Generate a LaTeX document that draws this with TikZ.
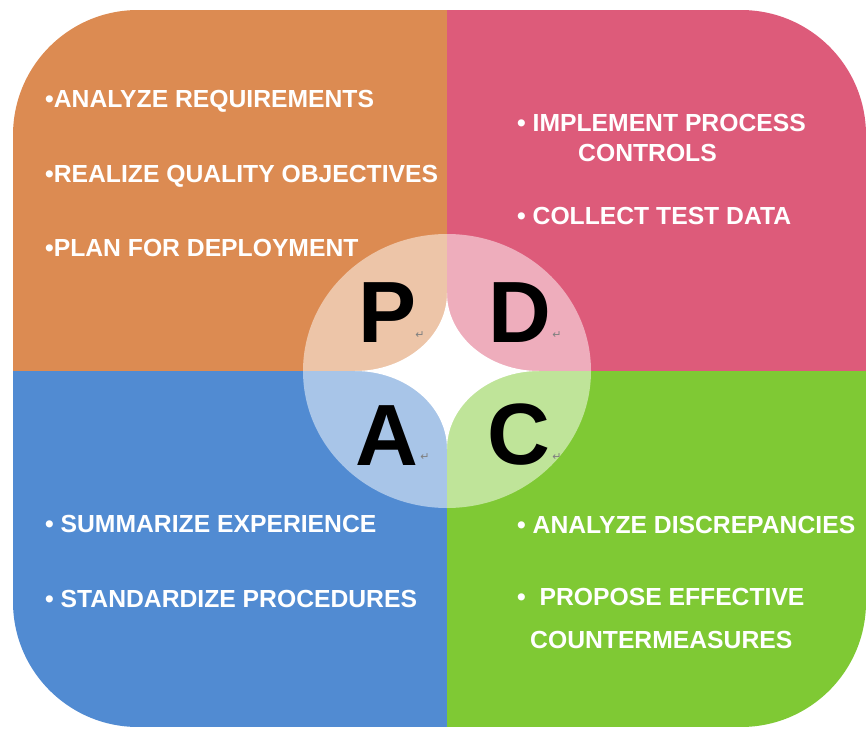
\documentclass[tikz,border=0pt]{standalone}
\usepackage{fontspec}
\setmainfont{Liberation Sans}
\newfontfamily\retfont{DejaVu Sans}
\usepackage{tikz}

\definecolor{planorange}{RGB}{220,139,82}
\definecolor{dopink}{RGB}{221,91,122}
\definecolor{actblue}{RGB}{81,139,210}
\definecolor{checkgreen}{RGB}{127,201,52}

\begin{document}
\begin{tikzpicture}
[
  x = 1pt, y = -1pt,
  item/.style     = {anchor=base west, inner sep=0pt, text=white,
                     font=\fontsize{24.7}{28}\selectfont\bfseries},
  letter/.style   = {anchor=base, inner sep=0pt, text=black,
                     font=\fontsize{87}{90}\selectfont\bfseries},
  retmark/.style  = {inner sep=0pt, text=gray,
                     font=\retfont\fontsize{11}{11}\selectfont},
  lens/.style     = {white, opacity=0.5},
  star arc/.style = {x radius=92, y radius=78}
]
\fill [white] (0,0) rectangle (867,730);
\useasboundingbox (0,0) rectangle (867,730);

\begin{scope}
  \clip [rounded corners=125pt] (13,10) rectangle (866,727);
  \fill [planorange] (13,10)   rectangle (447,371);
  \fill [dopink]     (447,10)  rectangle (866,371);
  \fill [actblue]    (13,371)  rectangle (447,727);
  \fill [checkgreen] (447,371) rectangle (866,727);
\end{scope}

\coordinate (hub) at (447,371);
\fill [lens] (hub) ellipse [x radius=144, y radius=137];
\fill [white] (355,371)
  arc [star arc, start angle=-90, end angle=0]
  arc [star arc, start angle=180, end angle=270]
  arc [star arc, start angle=90,  end angle=180]
  arc [star arc, start angle=0,   end angle=90] -- cycle;

\node [letter] (letterP) at (388,342) {P};
\node [letter] (letterD) at (520,342) {D};
\node [letter] (letterA) at (387,465) {A};
\node [letter] (letterC) at (519,464) {C};
\node [retmark] (retP) at (420,335) {↵};
\node [retmark] (retD) at (557,335) {↵};
\node [retmark] (retA) at (425,457) {↵};
\node [retmark] (retC) at (557,457) {↵};

\node [item] (analyze)   at (45,108) {•ANALYZE REQUIREMENTS};
\node [item] (realize)   at (45,183) {•REALIZE QUALITY OBJECTIVES};
\node [item] (deploy)    at (45,256) {•PLAN FOR DEPLOYMENT};

\node [item] (implement) at (517,132) {• IMPLEMENT PROCESS};
\node [item] (controls)  at (578,162) {CONTROLS};
\node [item] (collect)   at (517,224) {• COLLECT TEST DATA};

\node [item] (summarize)   at (45,532) {• SUMMARIZE EXPERIENCE};
\node [item] (standardize) at (45,607) {• STANDARDIZE PROCEDURES};

\node [item] (discrepancy) at (517,533) {• ANALYZE DISCREPANCIES};
\node [item] (propose)     at (517,605) {• \ PROPOSE EFFECTIVE};
\node [item] (counter)     at (530,648) {COUNTERMEASURES};
\end{tikzpicture}
\end{document}
